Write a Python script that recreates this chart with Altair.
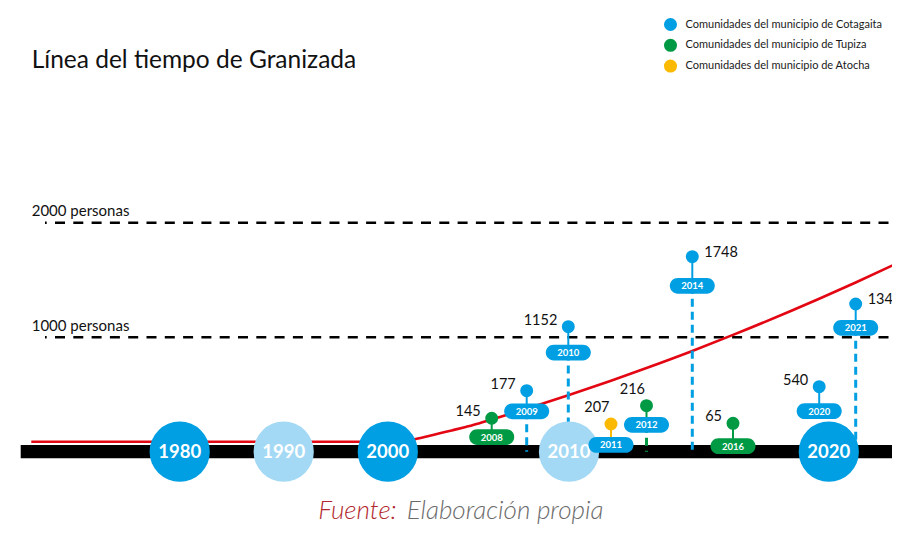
import altair as alt
import pandas as pd

# ---------------- data ----------------
titulo = "Línea del tiempo de Granizada"
fuente_a = "Fuente:"
fuente_b = "Elaboración propia"

decadas = [1980, 1990, 2000, 2010, 2020]
tono_decada = ["oscuro", "claro", "oscuro", "claro", "oscuro"]

anios = [2008, 2009, 2010, 2011, 2012, 2014, 2016, 2020, 2021]
municipios = ["Tupiza", "Cotagaita", "Cotagaita", "Atocha", "Tupiza",
              "Cotagaita", "Tupiza", "Cotagaita", "Cotagaita"]
personas = [145, 177, 1152, 207, 216, 1748, 65, 540, 1342]
# height of each pin head and of its year tag (in persons, as drawn)
nivel_pin = [292, 533, 1092, 242, 402, 1703, 248, 568, 1290]
nivel_etiqueta = [128, 353, 866, 59, 235, 1449, 48, 354, 1082]
grupo_etiqueta = ["Tupiza", "Cotagaita", "Cotagaita", "Cotagaita", "Cotagaita",
                  "Cotagaita", "Tupiza", "Cotagaita", "Cotagaita"]
con_guia = [False, True, True, False, True, True, False, False, True]
lado_numero = ["izq", "izq", "izq", "arriba", "arriba", "der", "izq", "izq", "der"]

referencias = [1000, 2000]
referencias_txt = ["1000 personas", "2000 personas"]

tendencia_anio = [1966, 2000, 2001, 2002, 2003, 2004, 2005, 2006, 2007, 2008,
                  2009, 2010, 2011, 2012, 2014, 2016, 2020, 2021, 2023]
tendencia_val = [87, 87, 90, 107, 133, 161, 188, 216, 246, 281,
                 376, 493, 620, 731, 880, 1020, 1336, 1478, 1657]

linea_tiempo = [1965, 2023]

municipio_orden = ["Cotagaita", "Tupiza", "Atocha"]

# ---------------- tables ----------------
eventos = pd.DataFrame({
    "anio": anios, "municipio": municipios, "personas": personas,
    "nivel_pin": nivel_pin, "nivel_etiqueta": nivel_etiqueta,
    "grupo": grupo_etiqueta, "guia": con_guia, "lado": lado_numero,
    "etiqueta": [str(a) for a in anios], "base": [0] * len(anios),
})
dec_df = pd.DataFrame({"anio": decadas, "tono": tono_decada,
                       "txt": [str(d) for d in decadas], "base": [0] * len(decadas)})
ref_df = pd.DataFrame({"valor": referencias, "txt": referencias_txt})
tend_df = pd.DataFrame({"anio": tendencia_anio, "valor": tendencia_val})
lt_df = pd.DataFrame({"anio": [linea_tiempo[0]], "anio2": [linea_tiempo[1]], "base": [0]})

# ---------------- scales ----------------
FONT = "Lato"
AZUL = "#009FE3"
AZUL_CLARO = "#A3D9F5"
VERDE = "#009A44"
AMARILLO = "#FBBA00"

x_pin = alt.Scale(
    domain=[1965, 1980, 2000, 2008, 2009, 2010, 2011, 2012, 2014, 2016, 2020, 2021, 2023],
    range=[12.7, 171.7, 379.8, 483.7, 518.7, 560.3, 603, 638.5, 684.3, 725, 811.2, 847.7, 892],
)
x_dec = alt.Scale(domain=[1980, 1990, 2000, 2010, 2020],
                  range=[171.7, 275.7, 379.8, 561, 820.8])
y_sc = alt.Scale(domain=[0, 2000], range=[443.7, 214.7])
col_sc = alt.Scale(domain=municipio_orden, range=[AZUL, VERDE, AMARILLO])


def X(f="anio:Q", sc=x_pin):
    return alt.X(f, scale=sc, axis=None)


def Y(f):
    return alt.Y(f, scale=y_sc, axis=None)


def C(f="municipio:N"):
    return alt.Color(f, scale=col_sc, legend=None)


# ---------------- layers ----------------
ref_lines = alt.Chart(ref_df).mark_rule(
    color="black", strokeWidth=2.6, strokeDash=[10, 8.3], strokeDashOffset=8.3
).encode(y=Y("valor:Q"), x=alt.value(37), x2=alt.value(892))

ref_txt = alt.Chart(ref_df).mark_text(
    align="left", baseline="alphabetic", dy=-6.7, font=FONT, fontSize=15, color="#111"
).encode(y=Y("valor:Q"), x=alt.value(23.7), text="txt:N")

curva = alt.Chart(tend_df).mark_line(
    color="#E30613", strokeWidth=2.6, interpolate="monotone"
).encode(x=X(), y=Y("valor:Q"))

barra = alt.Chart(lt_df).mark_rule(color="black", strokeWidth=13.3, strokeCap="butt").encode(
    x=X(), x2="anio2:Q", y=Y("base:Q"))

guias = alt.Chart(eventos).transform_filter("datum.guia").mark_rule(
    strokeWidth=3, strokeDash=[8, 5]
).encode(x=X(), y=Y("nivel_etiqueta:Q"), y2="base:Q", color=C())

circ_dec = alt.Chart(dec_df).mark_circle(size=3630, opacity=1).encode(
    x=X(sc=x_dec), y=Y("base:Q"),
    color=alt.condition("datum.tono == 'claro'", alt.value(AZUL_CLARO), alt.value(AZUL)))

txt_dec = alt.Chart(dec_df).mark_text(
    font=FONT, fontSize=18.5, fontWeight="bold", color="white", baseline="middle"
).encode(x=X(sc=x_dec), y=Y("base:Q"), text="txt:N")

tallos = alt.Chart(eventos).mark_rule(strokeWidth=2).encode(
    x=X(), y=Y("nivel_pin:Q"), y2="nivel_etiqueta:Q", color=C())

cabezas = alt.Chart(eventos).mark_circle(size=168, opacity=1).encode(
    x=X(), y=Y("nivel_pin:Q"),
    color=alt.Color("municipio:N", scale=col_sc, legend=alt.Legend(
        title=None, orient="none", legendX=655.5, legendY=9.5,
        symbolType="circle", symbolSize=170, symbolStrokeWidth=0, symbolOpacity=1,
        labelFont=FONT, labelFontSize=11, labelColor="#1a1a1a", labelOffset=8,
        labelLimit=400, rowPadding=6.8, padding=0,
        labelExpr="'Comunidades del municipio de ' + datum.label")))

PILL = ("M -0.65 -0.35 L 0.65 -0.35 A 0.35 0.35 0 0 1 0.65 0.35 "
        "L -0.65 0.35 A 0.35 0.35 0 0 1 -0.65 -0.35 Z")
pildoras = alt.Chart(eventos).mark_point(
    shape=PILL, size=2025, filled=True, opacity=1, strokeWidth=0
).encode(x=X(), y=Y("nivel_etiqueta:Q"), color=C("grupo:N"))

txt_pild = alt.Chart(eventos).mark_text(
    font=FONT, fontSize=9.5, fontWeight="bold", color="white", baseline="middle", dy=0.5
).encode(x=X(), y=Y("nivel_etiqueta:Q"), text="etiqueta:N")


def numeros(lado, align, dx, dy):
    return alt.Chart(eventos).transform_filter(f"datum.lado == '{lado}'").mark_text(
        font=FONT, fontSize=14.5, color="#111", align=align, baseline="middle", dx=dx, dy=dy
    ).encode(x=X(), y=Y("nivel_pin:Q"), text="personas:Q")


num_izq = numeros("izq", "right", -11, -6)
num_arr = numeros("arriba", "right", -1.5, -15.5)
num_der = numeros("der", "left", 12, -3.5)

tit_df = pd.DataFrame({"t": [titulo]})
tit = alt.Chart(tit_df).mark_text(
    font=FONT, fontSize=24.5, color="#111", align="left", baseline="alphabetic"
).encode(x=alt.value(23.7), y=alt.value(60.3), text="t:N")

fa = alt.Chart(pd.DataFrame({"t": [fuente_a]})).mark_text(
    font=FONT, fontSize=26, fontStyle="italic", fontWeight=300, color="#B2282E",
    align="left", baseline="alphabetic"
).encode(x=alt.value(310.3), y=alt.value(511), text="t:N")
fb = alt.Chart(pd.DataFrame({"t": [fuente_b]})).mark_text(
    font=FONT, fontSize=26, fontStyle="italic", fontWeight=300, color="#6B6B6B",
    align="left", baseline="alphabetic"
).encode(x=alt.value(398.7), y=alt.value(511), text="t:N")

chart = alt.layer(
    ref_lines, ref_txt, curva, barra, guias, circ_dec, txt_dec,
    tallos, cabezas, pildoras, txt_pild, num_izq, num_arr, num_der, tit, fa, fb
).resolve_scale(x="independent", color="independent").properties(
    width=884, height=518, autosize=alt.AutoSizeParams(type="none"), padding=0
).configure_view(stroke=None)

chart.save("out.html", embed_options={"renderer": "svg", "actions": False})
